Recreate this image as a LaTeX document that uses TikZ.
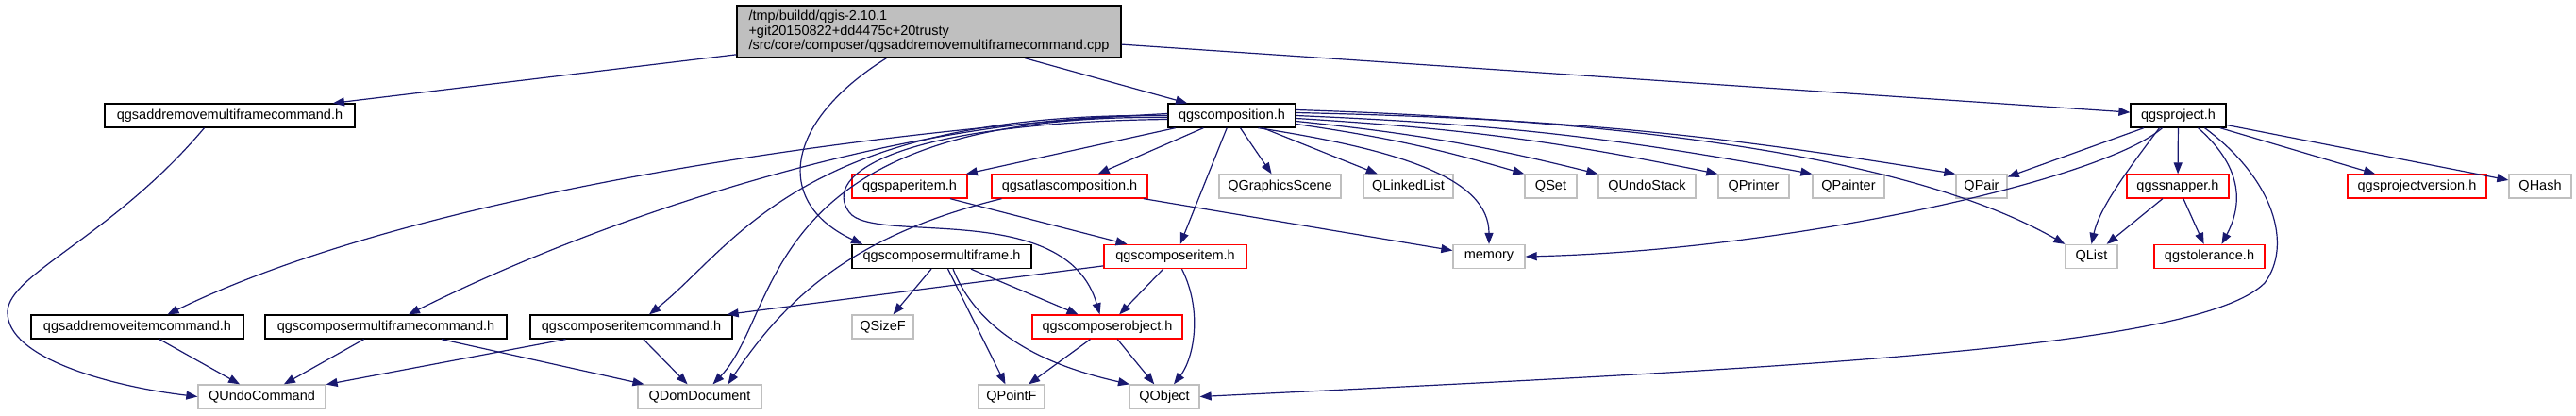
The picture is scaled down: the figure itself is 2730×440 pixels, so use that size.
\documentclass[tikz,border=0pt]{standalone}
\usepackage{fontspec}
\setmainfont{Liberation Sans}
\usepackage{tikz}
\usetikzlibrary{arrows.meta, positioning, calc}
\usepackage{xcolor}
\definecolor{edgeblue}{RGB}{25,25,112}
\definecolor{nodegray}{RGB}{191,191,191}

\begin{document}
\begin{tikzpicture}[
        x=1pt, y=-1pt,
        >={Triangle[length=12pt, width=9pt]},
        hdr/.style={rectangle, draw=black, fill=white, line width=1.3pt, minimum height=25pt, inner sep=0pt, font=\fontsize{14.5}{16}\selectfont},
        ext/.style={hdr, draw=nodegray},
        trunc/.style={hdr, draw=red},
        src/.style={hdr, fill=nodegray, minimum height=55pt, align=left, font=\fontsize{14.5}{15.5}\selectfont},
        dep/.style={->, draw=edgeblue, line width=1.2pt}
    ]
        \useasboundingbox (0,0) rectangle (2730,440);

        % Archivo fuente
        \node[src, minimum width=407pt] (root) at (984.5,33.5) {/tmp/buildd/qgis-2.10.1\\+git20150822+dd4475c+20trusty\\/src/core/composer/qgsaddremovemultiframecommand.cpp};

        % Fila 2
        \node[hdr, minimum width=265pt] (armfc) at (243.5,122.5) {qgsaddremovemultiframecommand.h};
        \node[hdr, minimum width=135pt] (comp) at (1305.5,122.5) {qgscomposition.h};
        \node[hdr, minimum width=101pt] (proj) at (2308.5,122.5) {qgsproject.h};

        % Fila 3
        \node[trunc, minimum width=122pt] (paper) at (964,197.5) {qgspaperitem.h};
        \node[trunc, minimum width=165pt] (atlas) at (1133.5,197.5) {qgsatlascomposition.h};
        \node[ext, minimum width=129pt] (qscene) at (1356.5,197.5) {QGraphicsScene};
        \node[ext, minimum width=95pt] (qlinked) at (1492.5,197.5) {QLinkedList};
        \node[ext, minimum width=55pt] (qset) at (1643.5,197.5) {QSet};
        \node[ext, minimum width=103pt] (qundostack) at (1745.5,197.5) {QUndoStack};
        \node[ext, minimum width=75pt] (qprinter) at (1858.5,197.5) {QPrinter};
        \node[ext, minimum width=76pt] (qpainter) at (1959,197.5) {QPainter};
        \node[ext, minimum width=54pt] (qpair) at (2100,197.5) {QPair};
        \node[trunc, minimum width=108pt] (snapper) at (2308,197.5) {qgssnapper.h};
        \node[trunc, minimum width=147pt] (projver) at (2561.5,197.5) {qgsprojectversion.h};
        \node[ext, minimum width=66pt] (qhash) at (2692,197.5) {QHash};

        % Fila 4
        \node[hdr, minimum width=190pt] (mf) at (998,272) {qgscomposermultiframe.h};
        \node[trunc, minimum width=151pt] (citem) at (1245.5,272) {qgscomposeritem.h};
        \node[ext, minimum width=76pt] (memory) at (1578,272) {memory};
        \node[ext, minimum width=55pt] (qlist) at (2216.5,272) {QList};
        \node[trunc, minimum width=117pt] (tolerance) at (2341.5,272) {qgstolerance.h};

        % Fila 5
        \node[hdr, minimum width=225pt] (aric) at (145.5,346.5) {qgsaddremoveitemcommand.h};
        \node[hdr, minimum width=256pt] (cmfc) at (409,346.5) {qgscomposermultiframecommand.h};
        \node[hdr, minimum width=214pt] (cic) at (669,346.5) {qgscomposeritemcommand.h};
        \node[ext, minimum width=65pt] (qsizef) at (935.5,346.5) {QSizeF};
        \node[trunc, minimum width=159pt] (cobj) at (1173.5,346.5) {qgscomposerobject.h};

        % Fila 6
        \node[ext, minimum width=135pt] (qundocmd) at (277.5,420.5) {QUndoCommand};
        \node[ext, minimum width=131pt] (qdom) at (741.5,420.5) {QDomDocument};
        \node[ext, minimum width=70pt] (qpointf) at (1072,420.5) {QPointF};
        \node[ext, minimum width=74pt] (qobject) at (1234,420.5) {QObject};

        % Desde el archivo fuente
        \draw[dep] (root) -- (armfc);
        \draw[dep] (root) -- (comp);
        \draw[dep] (root) -- (proj);
        \draw[dep] (root) .. controls (830,130) and (820,215) .. ([xshift=-84pt]mf.north);
        \draw[dep] ([xshift=-27pt]armfc.south) .. controls (120,250) and (10,290) .. (8,330) .. controls (6,380) and (120,410) .. (qundocmd.west);

        % qgscomposition.h hacia la izquierda
        \draw[dep] ([yshift=2pt]comp.west) .. controls (950,135) and (450,200) .. ([xshift=32pt]aric.north);
        \draw[dep] (comp.west) .. controls (980,120) and (660,220) .. ([xshift=24pt]cmfc.north);
        \draw[dep] (comp.west) .. controls (850,118) and (780,260) .. ([xshift=19pt]cic.north);
        \draw[dep] ([yshift=-2pt]comp.west) .. controls (800,120) and (830,330) .. ([xshift=14pt]qdom.north);
        \draw[dep] ([yshift=-4pt]comp.west) .. controls (950,130) and (870,185) .. (900,225) .. controls (925,260) and (1130,210) .. ([xshift=-8pt]cobj.north);

        % qgscomposition.h hacia abajo
        \draw[dep] (comp) -- (paper);
        \draw[dep] (comp) -- (atlas);
        \draw[dep] (comp) -- (qscene);
        \draw[dep] (comp) -- (qlinked);
        \draw[dep] (comp) -- (citem);
        \draw[dep] ([xshift=28pt]comp.south) .. controls (1484,159) and (1578,189) .. (memory.north);

        % qgscomposition.h hacia la derecha
        \draw[dep] ([yshift=-9pt]comp.east) to[bend left=4] (qset.north west);
        \draw[dep] ([yshift=-6pt]comp.east) to[bend left=4] (qundostack.north west);
        \draw[dep] ([yshift=-3pt]comp.east) to[bend left=4] (qprinter.north west);
        \draw[dep] (comp.east) to[bend left=4] (qpainter.north west);
        \draw[dep] ([yshift=3pt]comp.east) to[bend left=4] (qpair.north west);
        \draw[dep] ([yshift=6pt]comp.east) .. controls (1800,130) and (2050,180) .. (qlist.north west);

        % paperitem y atlas
        \draw[dep] ([xshift=43pt]paper.south) -- ([xshift=-51pt]citem.north);
        \draw[dep] (atlas) -- (memory);
        \draw[dep] ([xshift=-72pt]atlas.south) .. controls (900,250) and (830,320) .. ([xshift=30pt]qdom.north);

        % multiframe
        \draw[dep] (mf) -- (qsizef);
        \draw[dep] (mf) -- (qpointf);
        \draw[dep] (mf) -- (cobj);
        \draw[dep] ([xshift=12pt]mf.south) .. controls (1040,360) and (1120,390) .. ([xshift=-37pt]qobject.north);

        % composer item / object
        \draw[dep] (citem) -- (cic);
        \draw[dep] (citem) -- (cobj);
        \draw[dep] ([xshift=7pt]citem.south) .. controls (1275,330) and (1265,380) .. ([xshift=10pt]qobject.north);
        \draw[dep] (cobj) -- (qpointf);
        \draw[dep] (cobj) -- (qobject);

        % comandos
        \draw[dep] (aric) -- (qundocmd);
        \draw[dep] (cmfc) -- (qundocmd);
        \draw[dep] (cmfc) -- (qdom);
        \draw[dep] (cic) -- (qundocmd);
        \draw[dep] (cic) -- (qdom);

        % qgsproject.h
        \draw[dep] (proj) -- (qpair);
        \draw[dep] (proj) -- (snapper);
        \draw[dep] (proj) -- (projver);
        \draw[dep] (proj) -- (qhash);
        \draw[dep] ([xshift=-20pt]proj.south) .. controls (2255,180) and (2225,220) .. (qlist.north);
        \draw[dep] ([xshift=21pt]proj.south) .. controls (2380,180) and (2375,220) .. ([xshift=13pt]tolerance.north);
        \draw[dep] ([xshift=-17pt]proj.south) .. controls (2230,190) and (1900,265) .. (memory.east);
        \draw[dep] ([xshift=28pt]proj.south) .. controls (2410,190) and (2430,260) .. (2400,300) .. controls (2330,370) and (1900,390) .. (qobject.east);

        % qgssnapper.h
        \draw[dep] (snapper) -- (qlist);
        \draw[dep] (snapper) -- (tolerance);

    \end{tikzpicture}
\end{document}
